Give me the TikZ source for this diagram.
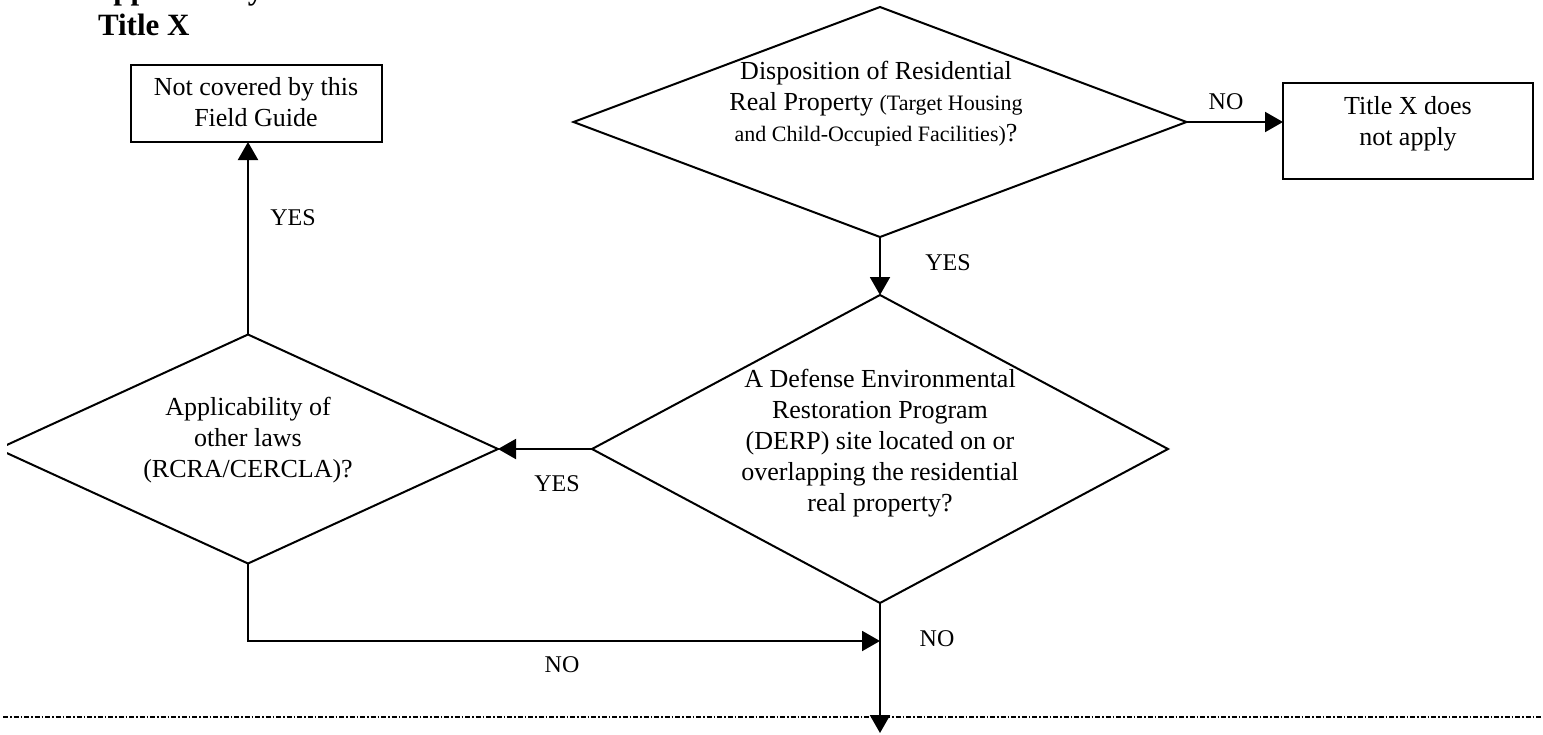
\documentclass[tikz,border=0pt]{standalone}
\usepackage{fontspec}
\setmainfont{Liberation Serif}
\usetikzlibrary{shapes.geometric,arrows.meta}
\begin{document}
\begin{tikzpicture}[x=1pt,y=-1pt,
  line width=2pt,
  decision/.style={draw, diamond, inner sep=0pt, outer sep=0pt},
  endbox/.style={draw, rectangle, inner sep=0pt, outer sep=0pt},
  txt/.style={align=center, inner sep=0pt, font=\fontsize{26pt}{31pt}\selectfont},
  lbl/.style={inner sep=0pt, font=\fontsize{24pt}{28pt}\selectfont},
  arr/.style={-{Triangle[length=18pt,width=20pt]}},
  sepline/.style={line width=1.8pt, dash pattern=on 5pt off 2pt on 1.5pt off 2pt}
]
\useasboundingbox (0,0) rectangle (1543,734);
\fill[white] (0,0) rectangle (1543,734);

% title
\node[anchor=base west, inner sep=0pt, font=\bfseries\fontsize{31pt}{36pt}\selectfont] (titletop) at (90,-1) {Applicability of};
\node[anchor=base west, inner sep=0pt, font=\bfseries\fontsize{31pt}{36pt}\selectfont] (title) at (97,35) {Title X};

% shapes
\node[decision, minimum width=613pt, minimum height=230pt] (d1) at (880,122) {};
\node[decision, minimum width=576pt, minimum height=308pt] (d2) at (880,449) {};
\begin{scope}
\clip (7,300) rectangle (700,600);
\node[decision, minimum width=500pt, minimum height=229pt] (d3) at (248,449) {};
\end{scope}
\node[endbox, minimum width=251pt, minimum height=77pt] (b1) at (256.5,103.5) {};
\node[endbox, minimum width=250pt, minimum height=96pt] (b2) at (1408,131) {};

% texts
\node[txt] (t1) at (876,104) {Disposition of Residential\\Real Property {\fontsize{22pt}{26pt}\selectfont(Target Housing}\\{\fontsize{22pt}{26pt}\selectfont and Child-Occupied Facilities)}?};
\node[txt] (t2) at (880,443) {A Defense Environmental\\Restoration Program\\(DERP) site located on or\\overlapping the residential\\real property?};
\node[txt] (t3) at (248,440) {Applicability of\\other laws\\(RCRA/CERCLA)?};
\node[txt] (tb1) at (256,102) {Not covered by this\\Field Guide};
\node[txt] (tb2) at (1408,124) {Title X does\\not apply};

% connectors
\draw[arr] (d1.east) -- (d1.east -| b2.west);
\draw[arr] (d1.south) -- (d2.north);
\draw[arr] (d2.west) -- (d3.east);
\draw[arr] (d3.north) -- (d3.north |- b1.south);
\coordinate (join) at (880,641);
\coordinate (exit) at (880,733);
\draw[arr] (d3.south) |- (join);
\coordinate (sepL) at (3,717);
\coordinate (sepR) at (1543,717);
\draw[sepline] (sepL) -- (sepR);
\draw[arr] (d2.south) -- (exit);

% labels
\node[lbl] (l1) at (1226,102) {NO};
\node[lbl] (l2) at (948,263) {YES};
\node[lbl] (l3) at (557,484) {YES};
\node[lbl] (l4) at (293,218) {YES};
\node[lbl] (l5) at (562,665) {NO};
\node[lbl] (l6) at (937,639) {NO};
\end{tikzpicture}
\end{document}
